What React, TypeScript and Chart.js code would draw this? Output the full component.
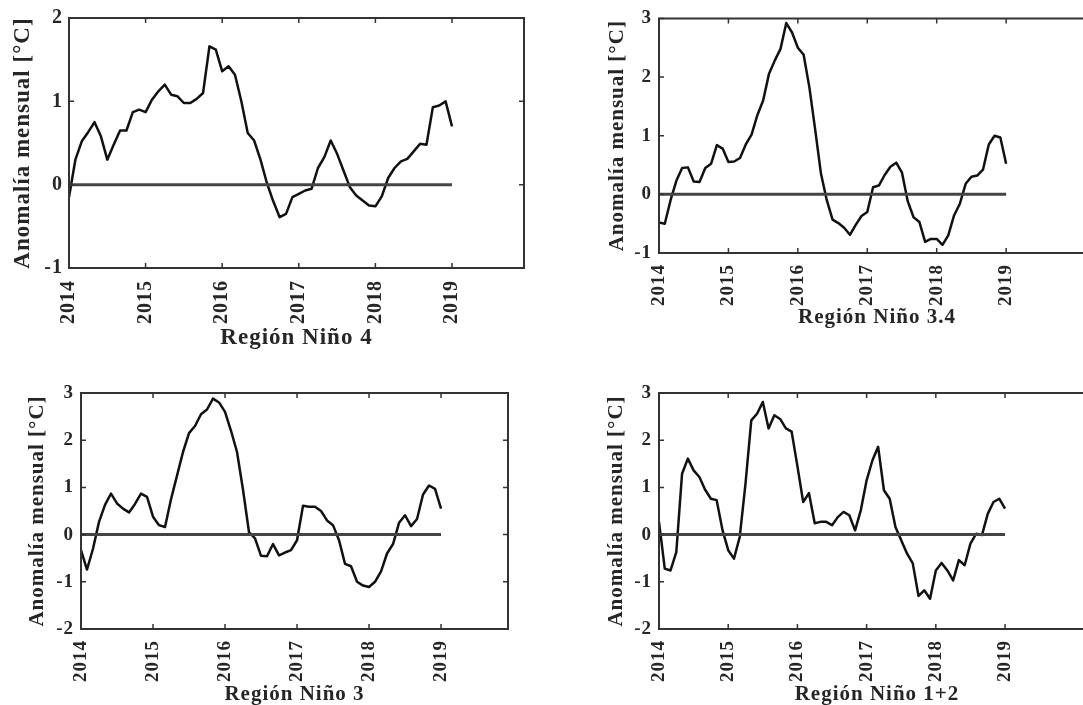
import { useEffect, useRef } from "react";
import { Chart, registerables } from "chart.js";

Chart.register(...registerables);

// ---- data (monthly anomalies, Jan 2014 .. Jan 2019) ----
const START_YEAR = 2014;
const YEAR_TICKS = [2014, 2015, 2016, 2017, 2018, 2019];
const Y_LABEL = "Anomalía mensual [°C]";

const nino4 = [
  -0.15, 0.3, 0.52, 0.63, 0.75, 0.58, 0.3, 0.48, 0.65, 0.65, 0.87, 0.9,
  0.87, 1.02, 1.12, 1.2, 1.08, 1.06, 0.98, 0.98, 1.03, 1.1, 1.66, 1.62,
  1.36, 1.42, 1.32, 1.0, 0.62, 0.53, 0.3, 0.02, -0.2, -0.39, -0.35, -0.15,
  -0.11, -0.07, -0.05, 0.2, 0.33, 0.53, 0.37, 0.17, -0.03, -0.13, -0.19, -0.25,
  -0.26, -0.14, 0.08, 0.2, 0.28, 0.31, 0.4, 0.49, 0.48, 0.93, 0.95, 1.0,
  0.7,
];

const nino34 = [
  -0.48, -0.5, -0.1, 0.23, 0.45, 0.46, 0.22, 0.21, 0.45, 0.52, 0.84, 0.78,
  0.55, 0.56, 0.62, 0.85, 1.02, 1.35, 1.6, 2.05, 2.28, 2.48, 2.92, 2.76,
  2.5, 2.38, 1.82, 1.1, 0.35, -0.1, -0.43, -0.49, -0.57, -0.69, -0.52, -0.37,
  -0.3, 0.12, 0.15, 0.33, 0.47, 0.54, 0.37, -0.12, -0.39, -0.47, -0.81, -0.76,
  -0.76, -0.86, -0.7, -0.36, -0.16, 0.18, 0.3, 0.32, 0.42, 0.85, 1.0, 0.97,
  0.52,
];

const nino3 = [
  -0.33, -0.74, -0.3, 0.27, 0.63, 0.87, 0.66, 0.55, 0.47, 0.65, 0.87, 0.8,
  0.38, 0.2, 0.16, 0.75, 1.25, 1.75, 2.15, 2.3, 2.55, 2.65, 2.88, 2.8,
  2.6, 2.2, 1.75, 0.95, 0.05, -0.08, -0.45, -0.46, -0.2, -0.44, -0.38, -0.33,
  -0.12, 0.61, 0.59, 0.59, 0.5, 0.3, 0.2, -0.12, -0.62, -0.67, -1.0, -1.08,
  -1.11, -1.0, -0.78, -0.4, -0.2, 0.25, 0.41, 0.18, 0.33, 0.85, 1.04, 0.97,
  0.55,
];

const nino12 = [
  0.27, -0.72, -0.76, -0.37, 1.29, 1.61, 1.36, 1.22, 0.95, 0.76, 0.73, 0.1,
  -0.33, -0.51, -0.05, 1.08, 2.42, 2.56, 2.81, 2.25, 2.53, 2.45, 2.25, 2.18,
  1.45, 0.69, 0.88, 0.24, 0.27, 0.27, 0.2, 0.37, 0.48, 0.41, 0.09, 0.52,
  1.15, 1.57, 1.86, 0.94, 0.76, 0.16, -0.12, -0.4, -0.61, -1.3, -1.18, -1.36,
  -0.76, -0.6, -0.76, -0.97, -0.54, -0.65, -0.19, 0.02, -0.01, 0.44, 0.69, 0.76,
  0.55,
];

const ZERO_LINE_X = [2014, 2019];

// ---- layout of the four panels ----
type PanelCfg = {
  title: string;
  values: number[];
  yMin: number;
  yMax: number;
  xMax: number;
  left: number;
  top: number;
  width: number;
  height: number;
  padTop: number;
  padRight: number;
  yAxisW: number;
  xAxisH: number;
  tickSize: number;
  titleSize: number;
  yTitlePad: number;
  xTitlePad: number;
  yTickPad: number;
  xTickPad: number;
  openRight: boolean;
};

const PANELS: PanelCfg[] = [
  {
    title: "Región Niño 4", values: nino4, yMin: -1, yMax: 2, xMax: 2019.94,
    left: 0, top: 0, width: 540, height: 350,
    padTop: 17, padRight: 16, yAxisW: 69, xAxisH: 82,
    tickSize: 20, titleSize: 23, yTitlePad: 11.5, xTitlePad: 0, yTickPad: 6, xTickPad: 12,
    openRight: false,
  },
  {
    title: "Región Niño 3.4", values: nino34, yMin: -1, yMax: 3, xMax: 2020.28,
    left: 540, top: 0, width: 620, height: 350,
    padTop: 17, padRight: 65, yAxisW: 119, xAxisH: 97,
    tickSize: 19, titleSize: 21, yTitlePad: 67.5, xTitlePad: 21.5, yTickPad: 7, xTickPad: 11,
    openRight: true,
  },
  {
    title: "Región Niño 3", values: nino3, yMin: -2, yMax: 3, xMax: 2019.93,
    left: 0, top: 350, width: 540, height: 355,
    padTop: 43, padRight: 32, yAxisW: 81, xAxisH: 76,
    tickSize: 19, titleSize: 21, yTitlePad: 27.5, xTitlePad: 0, yTickPad: 7, xTickPad: 11,
    openRight: false,
  },
  {
    title: "Región Niño 1+2", values: nino12, yMin: -2, yMax: 3, xMax: 2020.3,
    left: 540, top: 350, width: 620, height: 355,
    padTop: 43, padRight: 65, yAxisW: 119, xAxisH: 76,
    tickSize: 19, titleSize: 21, yTitlePad: 66.5, xTitlePad: 0, yTickPad: 7, xTickPad: 11,
    openRight: true,
  },
];

const TEXT_COLOR = "#262626";
const FONT_FAMILY = "'Liberation Serif', 'Times New Roman', serif";

const spacingPlugin = {
  id: "letterSpacing",
  beforeLayout(chart: any) {
    chart.ctx.letterSpacing = "1px";
  },
  beforeDraw(chart: any) {
    chart.ctx.letterSpacing = "1px";
  },
};

const framePlugin = {
  id: "frameBox",
  afterDatasetsDraw(chart: any, _args: any, opts: any) {
    const { ctx, chartArea } = chart;
    const { left, top, right, bottom } = chartArea;
    const xs = chart.scales.x;
    const ys = chart.scales.y;
    ctx.save();
    ctx.strokeStyle = "#333";
    ctx.lineWidth = 1.5;
    ctx.beginPath();
    for (const t of xs.ticks) {
      const px = xs.getPixelForValue(t.value);
      ctx.moveTo(px, bottom);
      ctx.lineTo(px, bottom - 5);
      ctx.moveTo(px, top);
      ctx.lineTo(px, top + 5);
    }
    for (const t of ys.ticks) {
      const py = ys.getPixelForValue(t.value);
      ctx.moveTo(left, py);
      ctx.lineTo(left + 5, py);
      if (!opts.openRight) {
        ctx.moveTo(right, py);
        ctx.lineTo(right - 5, py);
      }
    }
    ctx.stroke();
    ctx.lineWidth = 2;
    ctx.beginPath();
    if (opts.openRight) {
      ctx.moveTo(right, top);
      ctx.lineTo(left, top);
      ctx.lineTo(left, bottom);
      ctx.lineTo(right, bottom);
    } else {
      ctx.rect(left, top, right - left, bottom - top);
    }
    ctx.stroke();
    ctx.restore();
  },
};

function Panel({ cfg }: { cfg: PanelCfg }) {
  const ref = useRef<HTMLCanvasElement | null>(null);

  useEffect(() => {
    if (!ref.current) return;
    const series = cfg.values.map((v, i) => ({ x: START_YEAR + i / 12, y: v }));
    const zero = ZERO_LINE_X.map((x) => ({ x, y: 0 }));
    const chart = new Chart(ref.current, {
      type: "line",
      data: {
        datasets: [
          {
            data: series,
            borderColor: "#111",
            borderWidth: 2.5,
            pointRadius: 0,
            tension: 0,
            borderJoinStyle: "round",
            order: 1,
          },
          {
            data: zero,
            borderColor: "#444",
            borderWidth: 3,
            pointRadius: 0,
            order: 0,
          },
        ],
      },
      options: {
        animation: false,
        responsive: false,
        devicePixelRatio: 1,
        events: [],
        layout: {
          padding: { top: cfg.padTop, right: cfg.padRight, bottom: 0, left: 0 },
        },
        plugins: {
          legend: { display: false },
          tooltip: { enabled: false },
          title: { display: false },
          frameBox: { openRight: cfg.openRight },
        },
        scales: {
          x: {
            type: "linear",
            min: START_YEAR,
            max: cfg.xMax,
            grid: { display: false, drawTicks: false },
            border: { display: false },
            afterBuildTicks: (scale: any) => {
              scale.ticks = YEAR_TICKS.map((v) => ({ value: v }));
            },
            afterFit: (scale: any) => {
              scale.height = cfg.xAxisH;
            },
            ticks: {
              minRotation: 90,
              maxRotation: 90,
              autoSkip: false,
              padding: cfg.xTickPad,
              color: TEXT_COLOR,
              font: { family: FONT_FAMILY, size: cfg.tickSize, weight: "bold" },
              callback: (v: any) => String(v),
            },
            title: {
              display: true,
              text: cfg.title,
              color: TEXT_COLOR,
              font: { family: FONT_FAMILY, size: cfg.titleSize, weight: "bold", lineHeight: 1 },
              padding: { top: 0, bottom: cfg.xTitlePad },
            },
          },
          y: {
            type: "linear",
            min: cfg.yMin,
            max: cfg.yMax,
            grid: { display: false, drawTicks: false },
            border: { display: false },
            afterFit: (scale: any) => {
              scale.width = cfg.yAxisW;
            },
            ticks: {
              stepSize: 1,
              padding: cfg.yTickPad,
              color: TEXT_COLOR,
              font: { family: FONT_FAMILY, size: cfg.tickSize, weight: "bold" },
              callback: (v: any) => String(v),
            },
            title: {
              display: true,
              text: Y_LABEL,
              color: TEXT_COLOR,
              font: { family: FONT_FAMILY, size: cfg.titleSize, weight: "bold", lineHeight: 1 },
              padding: { top: cfg.yTitlePad, bottom: 0 },
            },
          },
        },
      } as any,
      plugins: [spacingPlugin, framePlugin],
    });
    return () => chart.destroy();
  }, [cfg]);

  return (
    <canvas
      ref={ref}
      width={cfg.width}
      height={cfg.height}
      style={{
        position: "absolute",
        left: cfg.left,
        top: cfg.top,
        width: cfg.width,
        height: cfg.height,
      }}
    />
  );
}

export default function App() {
  return (
    <div
      style={{
        position: "fixed",
        left: 0,
        top: 0,
        width: 1083,
        height: 705,
        overflow: "hidden",
        background: "#fff",
      }}
    >
      {PANELS.map((p) => (
        <Panel key={p.title} cfg={p} />
      ))}
    </div>
  );
}
